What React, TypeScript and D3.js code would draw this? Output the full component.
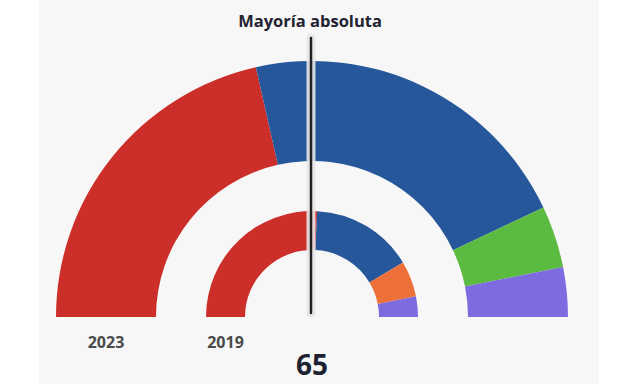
import React from 'react'
import * as d3 from 'd3'

// seats per party, left to right
const parties = ['PSOE', 'PP', 'Vox', 'Cs', 'Podemos']
const colors = ['#cc2e2a', '#26579b', '#5bbb40', '#ec7038', '#7f6be0']
const seats2023 = [55, 55, 10, 0, 8]
const seats2019 = [66, 40, 0, 14, 8]
const years = ['2023', '2019']
const majority = 65

const W = 640
const H = 384
const cx = 312
const cy = 317

const rings = [
  { year: years[0], values: seats2023, inner: 156, outer: 256 },
  { year: years[1], values: seats2019, inner: 67, outer: 106 },
]

export default function App() {
  const pie = d3.pie<number>()
    .sort(null)
    .startAngle(-Math.PI / 2)
    .endAngle(Math.PI / 2)

  return (
    <svg width={W} height={H} style={{ position: 'fixed', left: 0, top: 0, display: 'block' }}
      fontFamily="'Open Sans', sans-serif">
      <rect x={0} y={0} width={W} height={H} fill="#fff" />
      <rect x={39} y={0} width={560} height={H} fill="#f7f7f7" />
      <g transform={`translate(${cx},${cy})`}>
        {rings.map((ring) => {
          const arc = d3.arc<d3.PieArcDatum<number>>()
            .innerRadius(ring.inner)
            .outerRadius(ring.outer)
          return (
            <g key={ring.year}>
              {pie(ring.values).map((d, i) =>
                d.value > 0 ? (
                  <path key={parties[i]} d={arc(d) || ''} fill={colors[i]} />
                ) : null
              )}
              <text x={-(ring.inner + ring.outer) / 2} y={31} textAnchor="middle"
                fontSize={16} fontWeight={700} fill="#4a4a4a">{ring.year}</text>
            </g>
          )
        })}
      </g>
      <line x1={311} x2={311} y1={38} y2={313} stroke="#e6e6e6" strokeOpacity={0.9}
        strokeWidth={9} strokeLinecap="round" />
      <line x1={311} x2={311} y1={38} y2={313} stroke="#222" strokeWidth={2.5}
        strokeLinecap="round" />
      <text x={310} y={27} textAnchor="middle" fontSize={16.5} fontWeight={700} fill="#1f2330">
        Mayoría absoluta
      </text>
      <text x={312} y={375} textAnchor="middle" fontSize={28} fontWeight={700} fill="#1d2130">
        {majority}
      </text>
    </svg>
  )
}
